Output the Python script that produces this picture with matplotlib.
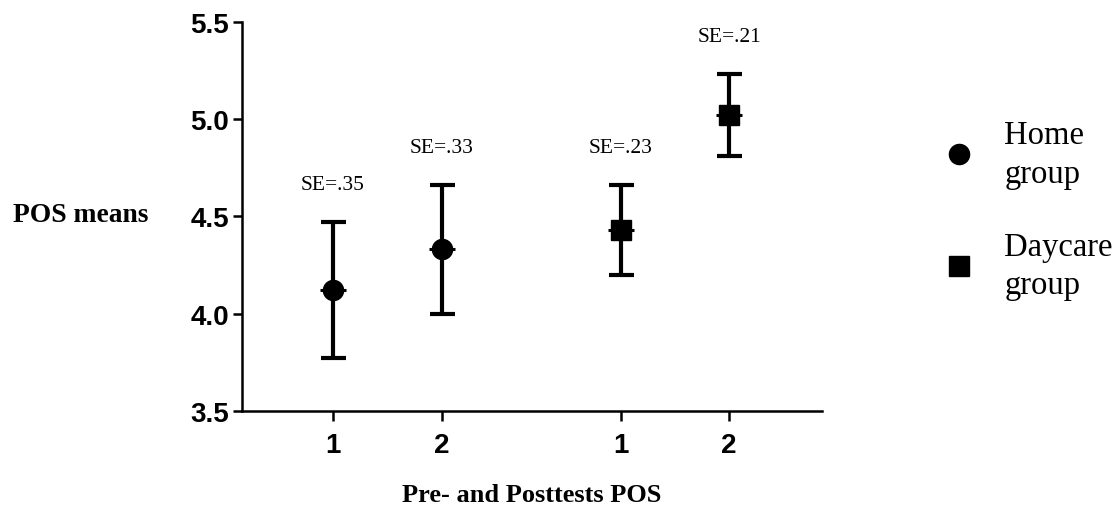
import matplotlib
matplotlib.use("Agg")
import matplotlib.pyplot as plt
from matplotlib.lines import Line2D

# Data
groups = ["Home\ngroup", "Daycare\ngroup"]
tick_labels = ["1", "2", "1", "2"]
home_means = [4.12, 4.33]
home_se = [0.35, 0.33]
daycare_means = [4.43, 5.02]
daycare_se = [0.23, 0.21]
se_labels_home = ["SE=.35", "SE=.33"]
se_labels_daycare = ["SE=.23", "SE=.21"]

# Layout positions
home_x = [1.0, 2.0]
daycare_x = [3.65, 4.65]

W, H = 1116, 506
fig = plt.figure(figsize=(W / 100, H / 100), dpi=100)
ax = fig.add_axes([242 / W, 1 - 411.7 / H, (822 - 242) / W, (411.7 - 23) / H])

serif = "Liberation Serif"
sans = "Liberation Sans"

def draw(xs, ms, ses, marker, labels):
    ax.errorbar(xs, ms, yerr=ses, fmt=marker, color="black", markersize=14.5,
                elinewidth=3.0, capsize=9, capthick=3.0, zorder=3)
    ax.plot(xs, ms, linestyle="none", marker="_", markersize=19, markeredgewidth=2.2,
            color="black", zorder=4)
    for x, m, s, lab in zip(xs, ms, ses, labels):
        ax.annotate(lab, (x, m + s), xytext=(0, 27), textcoords="offset points",
                    ha="center", va="center", fontfamily=serif, fontsize=15.5)

draw(home_x, home_means, home_se, "o", se_labels_home)
draw(daycare_x, daycare_means, daycare_se, "s", se_labels_daycare)

ax.set_xlim(0.161, 5.507)
ax.set_ylim(3.5, 5.5)
ax.set_yticks([3.5, 4.0, 4.5, 5.0, 5.5])
ax.set_yticklabels(["3.5", "4.0", "4.5", "5.0", "5.5"])
ax.set_xticks(home_x + daycare_x)
ax.set_xticklabels(tick_labels)

for lab in ax.get_xticklabels() + ax.get_yticklabels():
    lab.set_fontfamily(sans)
    lab.set_fontweight("bold")
    lab.set_fontsize(20)

ax.spines["top"].set_visible(False)
ax.spines["right"].set_visible(False)
ax.spines["left"].set_linewidth(1.8)
ax.spines["bottom"].set_linewidth(1.8)
ax.tick_params(axis="y", length=6.5, width=1.8, pad=3)
ax.tick_params(axis="x", length=7, width=1.8, pad=8)

ax.set_xlabel("Pre- and Posttests POS", fontfamily=serif, fontweight="bold",
              fontsize=19, labelpad=18)
fig.text(13 / W, 1 - 216 / H, "POS means", fontfamily=serif, fontweight="bold",
         fontsize=19.8, ha="left", va="center")

handles = [
    Line2D([], [], linestyle="none", marker="o", color="black", markersize=14.5),
    Line2D([], [], linestyle="none", marker="s", color="black", markersize=14.5),
]
leg = ax.legend(handles, groups, loc="center left", bbox_to_anchor=(913 / W, 1 - 211 / H),
                bbox_transform=fig.transFigure, frameon=False,
                prop={"family": serif, "size": 23.5}, labelspacing=1.3,
                handletextpad=0.9, handlelength=1.0)
for t in leg.get_texts():
    t.set_linespacing(1.35)

fig.savefig("out.png", dpi=100)
